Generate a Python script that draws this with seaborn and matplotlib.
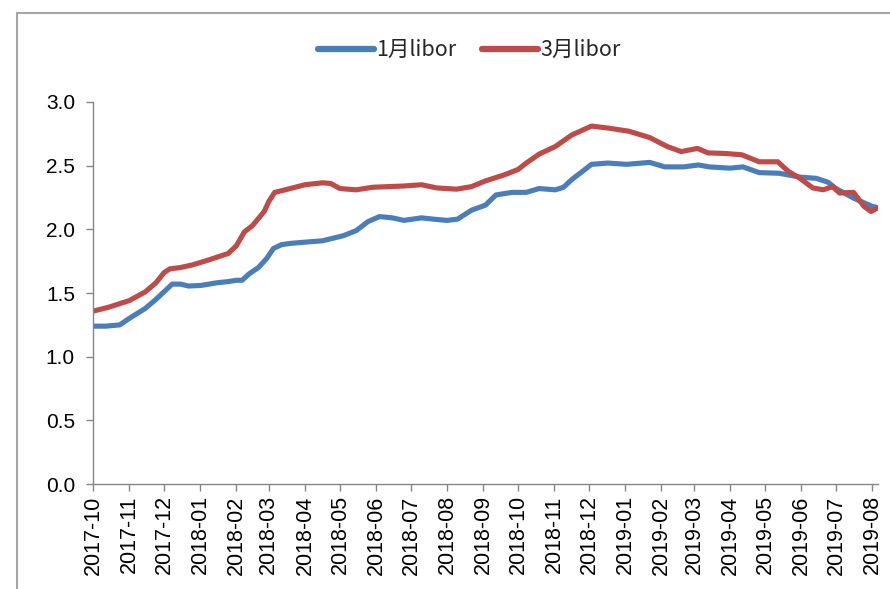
import pandas as pd
import numpy as np
import seaborn as sns
import matplotlib
matplotlib.use('Agg')
import matplotlib.pyplot as plt
import matplotlib.dates as mdates
from matplotlib.patches import Rectangle

# values
dates_1m = ['2017-10-02', '2017-10-12', '2017-10-24', '2017-11-01', '2017-11-08', '2017-11-15',
            '2017-11-24', '2017-12-01', '2017-12-08', '2017-12-15', '2017-12-22', '2018-01-02',
            '2018-01-15', '2018-01-25', '2018-02-01', '2018-02-06', '2018-02-12', '2018-02-20',
            '2018-02-27', '2018-03-05', '2018-03-12', '2018-03-20', '2018-04-02', '2018-04-16',
            '2018-04-25', '2018-05-04', '2018-05-15', '2018-05-25', '2018-06-04', '2018-06-15',
            '2018-06-25', '2018-07-10', '2018-07-20', '2018-08-01', '2018-08-10', '2018-08-22',
            '2018-09-03', '2018-09-12', '2018-09-26', '2018-10-08', '2018-10-19', '2018-11-02',
            '2018-11-09', '2018-11-16', '2018-11-26', '2018-12-03', '2018-12-17', '2019-01-02',
            '2019-01-22', '2019-02-04', '2019-02-20', '2019-03-05', '2019-03-14', '2019-04-01',
            '2019-04-12', '2019-04-26', '2019-05-13', '2019-05-31', '2019-06-14', '2019-06-24',
            '2019-07-01', '2019-07-16', '2019-08-01', '2019-08-06']
libor_1m = [1.24, 1.24, 1.25, 1.30, 1.34, 1.38,
            1.45, 1.51, 1.57, 1.57, 1.555, 1.56,
            1.58, 1.59, 1.60, 1.60, 1.65, 1.70,
            1.77, 1.85, 1.88, 1.89, 1.90, 1.91,
            1.93, 1.95, 1.99, 2.06, 2.10, 2.09,
            2.07, 2.09, 2.08, 2.07, 2.08, 2.15,
            2.19, 2.27, 2.29, 2.29, 2.32, 2.31,
            2.33, 2.39, 2.46, 2.51, 2.52, 2.51,
            2.525, 2.49, 2.49, 2.505, 2.49, 2.48,
            2.49, 2.445, 2.44, 2.41, 2.40, 2.37,
            2.32, 2.245, 2.18, 2.17]

dates_3m = ['2017-10-02', '2017-10-15', '2017-10-25', '2017-11-01', '2017-11-15', '2017-11-24',
            '2017-12-01', '2017-12-06', '2017-12-15', '2017-12-25', '2018-01-05', '2018-01-15',
            '2018-01-25', '2018-02-01', '2018-02-08', '2018-02-15', '2018-02-25', '2018-03-01',
            '2018-03-06', '2018-03-15', '2018-04-01', '2018-04-16', '2018-04-23', '2018-05-01',
            '2018-05-15', '2018-05-29', '2018-06-25', '2018-07-10', '2018-07-23', '2018-08-09',
            '2018-08-22', '2018-09-03', '2018-09-20', '2018-10-01', '2018-10-08', '2018-10-19',
            '2018-11-02', '2018-11-16', '2018-12-03', '2018-12-17', '2019-01-04', '2019-01-22',
            '2019-02-06', '2019-02-18', '2019-03-04', '2019-03-13', '2019-03-28', '2019-04-11',
            '2019-04-26', '2019-05-12', '2019-05-21', '2019-05-31', '2019-06-11', '2019-06-20',
            '2019-06-28', '2019-07-04', '2019-07-16', '2019-07-25', '2019-07-31', '2019-08-06']
libor_3m = [1.36, 1.39, 1.42, 1.44, 1.51, 1.58,
            1.66, 1.69, 1.70, 1.72, 1.75, 1.78,
            1.81, 1.87, 1.98, 2.03, 2.14, 2.22,
            2.29, 2.31, 2.35, 2.365, 2.36, 2.32,
            2.31, 2.33, 2.34, 2.35, 2.325, 2.315,
            2.335, 2.38, 2.43, 2.47, 2.52, 2.59,
            2.65, 2.74, 2.81, 2.795, 2.77, 2.72,
            2.65, 2.61, 2.635, 2.60, 2.595, 2.585,
            2.53, 2.53, 2.455, 2.40, 2.325, 2.31,
            2.335, 2.285, 2.29, 2.18, 2.14, 2.17]

series_names = ['1月libor', '3月libor']
series_colors = ['#4a7ebb', '#be4b48']

df = pd.concat([
    pd.DataFrame({'date': pd.to_datetime(dates_1m), 'rate': libor_1m, 'name': series_names[0]}),
    pd.DataFrame({'date': pd.to_datetime(dates_3m), 'rate': libor_3m, 'name': series_names[1]}),
])

sns.set_style('white')
plt.rcParams['font.family'] = ['Noto Sans CJK SC', 'DejaVu Sans']

fig = plt.figure(figsize=(8.9, 5.89), dpi=100)
ax = fig.add_axes([0.1045, 0.178, 0.882, 0.649])

sns.lineplot(data=df, x='date', y='rate', hue='name', palette=series_colors,
             linewidth=3.7, ax=ax)

ax.set_ylim(0, 3.0)
ax.set_yticks(np.arange(0, 3.01, 0.5))
ax.yaxis.set_major_formatter(matplotlib.ticker.FormatStrFormatter('%.1f'))
ax.set_xlim(pd.Timestamp('2017-10-01'), pd.Timestamp('2019-08-06'))
ax.xaxis.set_major_locator(mdates.MonthLocator())
ax.xaxis.set_major_formatter(mdates.DateFormatter('%Y-%m'))
ax.set_xlabel('')
ax.set_ylabel('')

for lab in ax.get_xticklabels():
    lab.set_rotation(90)
    lab.set_fontfamily('Liberation Sans')
    lab.set_fontsize(15.5)
for lab in ax.get_yticklabels():
    lab.set_fontfamily('Liberation Sans')
    lab.set_fontsize(15)

ax.tick_params(axis='both', direction='out', length=5, width=1, color='#868686',
               labelcolor='black', left=True, bottom=True)
ax.tick_params(axis='x', pad=3)
ax.tick_params(axis='y', pad=8)
for s in ['top', 'right']:
    ax.spines[s].set_visible(False)
for s in ['left', 'bottom']:
    ax.spines[s].set_color('#868686')
    ax.spines[s].set_linewidth(1)

leg = ax.legend(loc='center', bbox_to_anchor=(0.479, 1.135), ncol=2, frameon=False,
                fontsize=15.5, handlelength=2.6, handletextpad=0.1, columnspacing=1.2)
for h in leg.get_lines():
    h.set_linewidth(4.5)

# outer chart frame
fig.patches.append(Rectangle((17 / 890, -0.05), 1.0, 1 - 13 / 589 + 0.05, transform=fig.transFigure,
                             fill=False, edgecolor='#a6a6a6', linewidth=1.5))

fig.savefig('out.png', dpi=100)
